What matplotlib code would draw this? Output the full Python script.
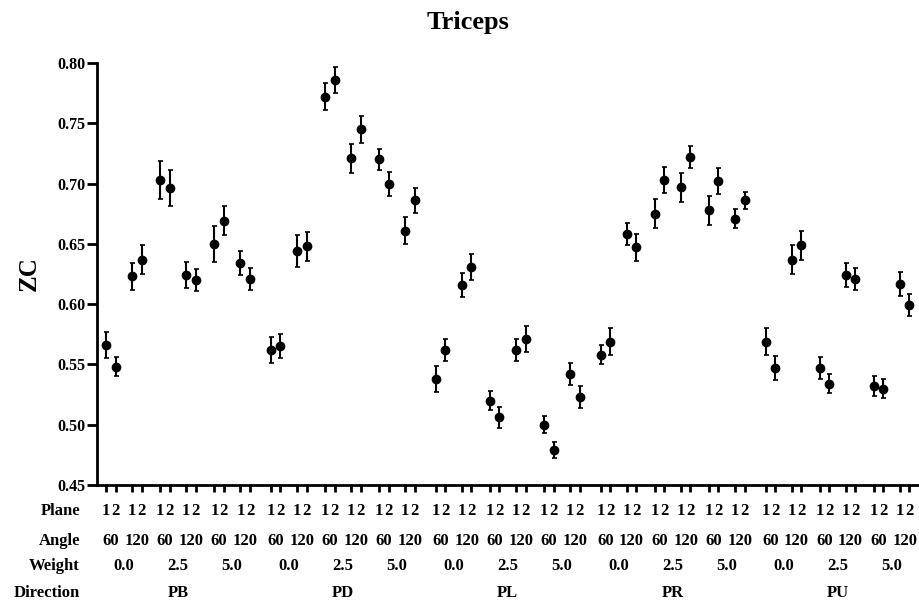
import numpy as np
import matplotlib
matplotlib.use("Agg")
import matplotlib.pyplot as plt
from matplotlib.transforms import blended_transform_factory

plt.rcParams['font.family'] = ['Liberation Serif', 'DejaVu Serif']
plt.rcParams['font.weight'] = 'bold'

directions = ['PB', 'PD', 'PL', 'PR', 'PU']
weights = ['0.0', '2.5', '5.0']
angles = ['60', '120']
planes = ['1', '2']

# ZC mean per (direction, weight, angle, plane), in that nesting order
zc_mean = [
    0.566, 0.548, 0.623, 0.637,  0.703, 0.696, 0.624, 0.620,  0.650, 0.669, 0.634, 0.621,   # PB
    0.562, 0.565, 0.644, 0.648,  0.772, 0.786, 0.721, 0.745,  0.720, 0.700, 0.661, 0.686,   # PD
    0.538, 0.562, 0.616, 0.631,  0.520, 0.506, 0.562, 0.571,  0.500, 0.479, 0.542, 0.523,   # PL
    0.558, 0.569, 0.658, 0.647,  0.675, 0.703, 0.697, 0.722,  0.678, 0.702, 0.671, 0.686,   # PR
    0.569, 0.547, 0.637, 0.649,  0.547, 0.534, 0.624, 0.621,  0.532, 0.530, 0.617, 0.599,   # PU
]
zc_err = [
    0.011, 0.008, 0.011, 0.012,  0.016, 0.015, 0.011, 0.009,  0.015, 0.012, 0.010, 0.009,
    0.011, 0.010, 0.013, 0.012,  0.011, 0.011, 0.012, 0.011,  0.009, 0.010, 0.011, 0.010,
    0.011, 0.009, 0.010, 0.011,  0.008, 0.009, 0.009, 0.011,  0.007, 0.007, 0.009, 0.009,
    0.008, 0.011, 0.009, 0.011,  0.012, 0.011, 0.012, 0.009,  0.012, 0.011, 0.008, 0.007,
    0.011, 0.010, 0.012, 0.012,  0.009, 0.008, 0.010, 0.009,  0.008, 0.008, 0.010, 0.009,
]

# x layout: nested groups with a bit of extra space between levels
d_step, w_step, a_step, p_step = 17.3, 5.68, 2.74, 1.0
xs = []
for d in range(len(directions)):
    for w in range(len(weights)):
        for a in range(len(angles)):
            for p in range(len(planes)):
                xs.append(d * d_step + w * w_step + a * a_step + p * p_step)
xs = np.array(xs)

fig = plt.figure(figsize=(9.2, 6.03), dpi=100)
ax = fig.add_axes([97 / 920, (603 - 485) / 603, (918 - 97) / 920, (485 - 63) / 603])

ax.errorbar(xs, zc_mean, yerr=zc_err, fmt='o', color='black', markersize=6,
            elinewidth=1.5, capsize=1.8, capthick=1.2)

yt = np.arange(0.45, 0.801, 0.05)
ax.set_ylim(0.45, 0.80)
ax.set_yticks(yt)
ax.set_yticklabels([f'{v:.2f}' for v in yt], fontsize=11.5, fontweight='bold')
ax.set_xlim(xs[0] - 0.95, xs[-1] + 0.9)
ax.set_xticks(xs)
ax.set_xticklabels([])
ax.tick_params(axis='x', length=5, width=2, direction='out')
ax.tick_params(axis='y', length=7, width=2, direction='out', pad=1)
for side in ['top', 'right']:
    ax.spines[side].set_visible(False)
for side in ['left', 'bottom']:
    ax.spines[side].set_linewidth(2)

ax.set_ylabel('ZC', fontsize=18, fontweight='bold')
ax.yaxis.set_label_coords((41 - 97) / 821, 0.5)
fig.text(468 / 920, 1 - 22 / 603, 'Triceps', ha='center', va='center',
         fontsize=19, fontweight='bold')

# multi-row category labels under the axis (baseline offsets in px below the axis)
tr = blended_transform_factory(ax.transData, ax.transAxes)
h = 485 - 63
rows_y = {'Plane': -30 / h, 'Angle': -60 / h, 'Weight': -85 / h, 'Direction': -112 / h}
fs = 12
for i, x in enumerate(xs):
    ax.text(x, rows_y['Plane'], planes[i % 2], transform=tr, ha='center', va='baseline',
            fontsize=fs, fontweight='bold')
for j in range(0, len(xs), 2):
    ax.text(xs[j:j + 2].mean(), rows_y['Angle'], angles[(j // 2) % 2], transform=tr,
            ha='center', va='baseline', fontsize=fs, fontweight='bold')
for j in range(0, len(xs), 4):
    ax.text(xs[j:j + 4].mean(), rows_y['Weight'], weights[(j // 4) % 3], transform=tr,
            ha='center', va='baseline', fontsize=fs, fontweight='bold')
for j in range(0, len(xs), 12):
    ax.text(xs[j:j + 12].mean(), rows_y['Direction'], directions[j // 12], transform=tr,
            ha='center', va='baseline', fontsize=fs, fontweight='bold')
for name, y in rows_y.items():
    ax.text(-17 / 821, y, name, transform=ax.transAxes, ha='right', va='baseline',
            fontsize=fs, fontweight='bold')

fig.savefig('out.png', dpi=100)
